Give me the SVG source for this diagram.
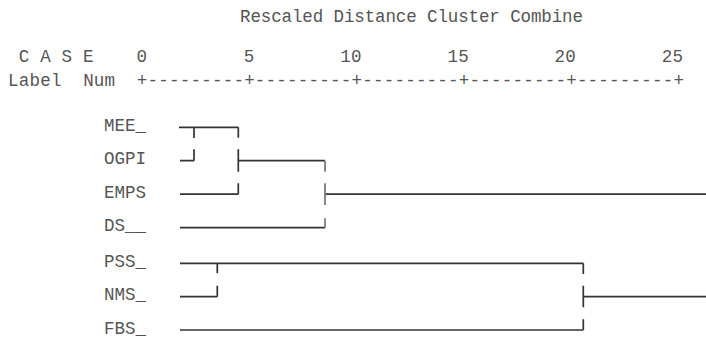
<svg xmlns="http://www.w3.org/2000/svg" width="706" height="343" viewBox="0 0 706 343">
  <style>
    .t { font-family: "Liberation Mono", "DejaVu Sans Mono", monospace; font-size: 17.5px; fill: #555; }
    .ln { stroke: #333; stroke-width: 1.7; fill: none; stroke-linecap: butt; }
    .lv { stroke: #7a7a7a; stroke-width: 1.8; fill: none; }
  </style>
  <rect width="706" height="343" fill="#fff"/>

  <!-- header: title and distance scale -->
  <g id="header">
    <text class="t" x="240" y="22" textLength="343" lengthAdjust="spacing">Rescaled Distance Cluster Combine</text>
    <text class="t" x="8" y="62" xml:space="preserve" textLength="675" lengthAdjust="spacing"> C A S E    0         5        10        15        20        25</text>
    <text class="t" x="8" y="86" xml:space="preserve" textLength="676" lengthAdjust="spacing">Label  Num  +---------+---------+---------+---------+---------+</text>
  </g>

  <!-- case labels -->
  <g id="case-MEE"><text class="t" x="104" y="130.8">MEE_</text></g>
  <g id="case-OGPI"><text class="t" x="104" y="164.2">OGPI</text></g>
  <g id="case-EMPS"><text class="t" x="104" y="197.7">EMPS</text></g>
  <g id="case-DS"><text class="t" x="104" y="231.2">DS__</text></g>
  <g id="case-PSS"><text class="t" x="104" y="266.8">PSS_</text></g>
  <g id="case-NMS"><text class="t" x="104" y="300.2">NMS_</text></g>
  <g id="case-FBS"><text class="t" x="104" y="333.5">FBS_</text></g>

  <!-- dendrogram branches (verticals drawn per text row, leaving row gaps) -->
  <g id="connectors">
    <!-- MEE + OGPI -->
    <path class="ln" d="M179 127.3H238.3 M180 160.7H194 M194 127.3V138 M194 149.3V160.7"/>
    <!-- (MEE,OGPI) + EMPS -->
    <path class="ln" d="M180 194.2H238.3 M238.3 127.3V137.7 M238.3 149.3V171.7 M238.3 183.3V194.2 M238.3 160.7H325"/>
    <!-- + DS -->
    <path class="ln" d="M180 227.7H325 M325 194.2H706"/>
    <path class="lv" d="M325 160.7V171.7 M325 183.3V205 M325 218.3V227.7"/>
    <!-- PSS + NMS -->
    <path class="ln" d="M180 263.3H583.3 M180 296.7H217.3 M217.3 263.3V273.3 M217.3 285.7V296.7"/>
    <!-- (PSS,NMS) + FBS -->
    <path class="ln" d="M180 330H583.3 M583.3 263.3V274 M583.3 285.7V307.3 M583.3 319.3V330 M583.3 296.7H706"/>
  </g>
</svg>
